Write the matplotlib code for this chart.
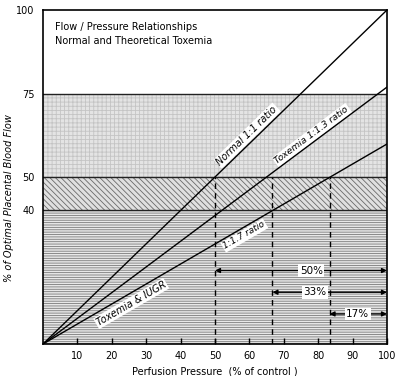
import matplotlib
matplotlib.use("Agg")
import matplotlib.pyplot as plt
import numpy as np

# Data
ratios = [1.0, 1.3, 1.67]            # flow : pressure ratios (pressure / flow)
line_labels = ["Normal 1:1 ratio", "Toxemia 1:1.3 ratio", "1:1.7 ratio"]
cutoffs = [50, 66.7, 83.3]           # perfusion pressure where flow drops to 50%
arrow_y = [22, 15.5, 9]
arrow_labels = ["50%", "33%", "17%"]
x_ticks = [10, 20, 30, 40, 50, 60, 70, 80, 90, 100]
y_ticks = [40, 50, 75, 100]

plt.rcParams['hatch.linewidth'] = 0.6
fig = plt.figure(figsize=(4.0, 3.76), dpi=100)
ax = fig.add_axes([0.1075, 0.0851, 0.86, 0.8883])
ax.set_xlim(0, 100)
ax.set_ylim(0, 100)

# bands
ax.axhspan(50, 75, facecolor='#e4e4e4', edgecolor='#c4c4c4', hatch='++++', lw=0, zorder=0)
ax.axhspan(40, 50, facecolor='#e0e0e0', edgecolor='#6a6a6a', hatch='\\\\\\\\\\\\', lw=0, zorder=0)
ax.axhspan(0, 40, facecolor='#e8e8e8', edgecolor='#7a7a7a', hatch='-------', lw=0, zorder=0)
for yv in [75, 50, 40]:
    ax.axhline(yv, color='#222222', lw=1.0, zorder=1)

# ratio lines
x = np.array([0, 100])
for r in ratios:
    ax.plot(x, x / r, color='black', lw=1.0, zorder=3)

# dashed verticals
for c in cutoffs:
    ax.plot([c, c], [0, 50], color='black', lw=1.0, ls=(0, (4, 3)), zorder=2)

# arrows
label_x = [78, 79, 91.5]
for c, yv, lab, lx in zip(cutoffs, arrow_y, arrow_labels, label_x):
    ax.annotate('', xy=(100, yv), xytext=(c, yv),
                arrowprops=dict(arrowstyle='<|-|>', color='black', lw=1.0,
                                mutation_scale=7, shrinkA=0, shrinkB=0), zorder=4)
    ax.text(lx, yv, lab, ha='center', va='center',
            fontsize=7.5, bbox=dict(facecolor='white', edgecolor='none', pad=1), zorder=5)

# line labels
style = dict(style='italic', rotation_mode='anchor',
             transform_rotates_text=True, zorder=5,
             bbox=dict(facecolor='white', edgecolor='none', pad=0.8))
ax.text(52, 52 / ratios[0] + 1, line_labels[0], rotation=45, ha='left', va='bottom',
        fontsize=7, **style)
ax.text(68.5, 68.5 / ratios[1] + 0.8, line_labels[1], rotation=np.degrees(np.arctan(1 / ratios[1])),
        ha='left', va='bottom', fontsize=6.7, **style)
ax.text(52, 52 / ratios[2] - 1.0, line_labels[2], rotation=np.degrees(np.arctan(1 / ratios[2])),
        ha='left', va='top', fontsize=6.5, **style)
ax.text(15, 15 / ratios[2] - 1.5, "Toxemia & IUGR", rotation=np.degrees(np.arctan(1 / ratios[2])),
        ha='left', va='top', fontsize=7, **style)

# title
ax.text(3.5, 96.5, "Flow / Pressure Relationships", fontsize=7, va='top', ha='left')
ax.text(3.5, 92.2, "Normal and Theoretical Toxemia", fontsize=7, va='top', ha='left')

ax.set_xticks(x_ticks)
ax.set_xticklabels([str(t) for t in x_ticks], fontsize=7)
ax.set_yticks(y_ticks)
ax.set_yticklabels([str(t) for t in y_ticks], fontsize=7)
ax.tick_params(axis='x', direction='in', length=4, width=1, pad=5)
ax.tick_params(axis='y', length=0, pad=6)
for s in ax.spines.values():
    s.set_linewidth(1.2)
ax.set_xlabel("Perfusion Pressure  (% of control )", fontsize=7, labelpad=4)
ax.set_ylabel("% of Optimal Placental Blood Flow", fontsize=7, style='italic')
ax.yaxis.set_label_coords(-0.085, 0.437)

fig.savefig("out.png", dpi=100)
